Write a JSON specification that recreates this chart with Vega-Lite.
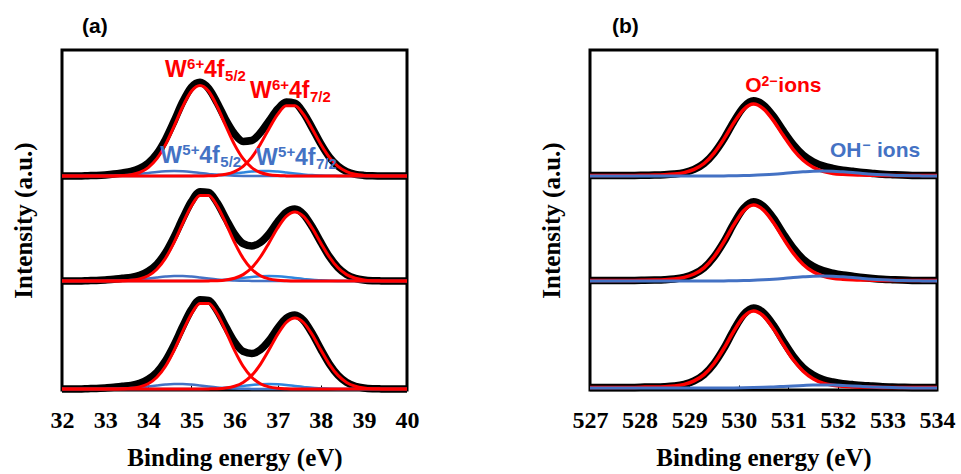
{
"$schema": "https://vega.github.io/schema/vega-lite/v6.json",
"background": "white",
"padding": {"left": 9, "top": 14, "right": 5, "bottom": 5},
"spacing": 183,
"bounds": "flush",
"config": {
  "view": {"stroke": "black", "strokeWidth": 3},
  "axis": {"grid": false, "domain": false, "labelFont": "Liberation Serif", "labelFontWeight": "bold", "labelFontSize": 24, "labelColor": "black", "titleFont": "Liberation Serif", "titleFontWeight": "bold", "titleFontSize": 25, "titleColor": "black", "tickColor": "black"},
  "title": {"font": "Liberation Sans", "fontWeight": "bold", "fontSize": 21, "anchor": "start", "color": "black", "offset": 13, "frame": "group"}
},
"datasets": {
"a": [
{"k":1,"x":32,"tot":2.14,"r1":2.14,"r2":2.14,"b1":2.14,"b2":2.14},
{"k":1,"x":32.2,"tot":2.14,"r1":2.14,"r2":2.14,"b1":2.14,"b2":2.14},
{"k":1,"x":32.4,"tot":2.14,"r1":2.14,"r2":2.14,"b1":2.14,"b2":2.14},
{"k":1,"x":32.6,"tot":2.143,"r1":2.14,"r2":2.14,"b1":2.14,"b2":2.14},
{"k":1,"x":32.8,"tot":2.146,"r1":2.14,"r2":2.14,"b1":2.14,"b2":2.14},
{"k":1,"x":33,"tot":2.151,"r1":2.14,"r2":2.14,"b1":2.141,"b2":2.14},
{"k":1,"x":33.2,"tot":2.159,"r1":2.141,"r2":2.14,"b1":2.143,"b2":2.14},
{"k":1,"x":33.4,"tot":2.171,"r1":2.144,"r2":2.14,"b1":2.147,"b2":2.14},
{"k":1,"x":33.6,"tot":2.185,"r1":2.153,"r2":2.14,"b1":2.152,"b2":2.14},
{"k":1,"x":33.8,"tot":2.216,"r1":2.175,"r2":2.14,"b1":2.161,"b2":2.14},
{"k":1,"x":34,"tot":2.269,"r1":2.224,"r2":2.14,"b1":2.17,"b2":2.14},
{"k":1,"x":34.2,"tot":2.363,"r1":2.313,"r2":2.14,"b1":2.18,"b2":2.14},
{"k":1,"x":34.4,"tot":2.506,"r1":2.454,"r2":2.14,"b1":2.187,"b2":2.14},
{"k":1,"x":34.6,"tot":2.689,"r1":2.639,"r2":2.14,"b1":2.19,"b2":2.14},
{"k":1,"x":34.8,"tot":2.882,"r1":2.835,"r2":2.14,"b1":2.187,"b2":2.14},
{"k":1,"x":35,"tot":3.028,"r1":2.987,"r2":2.14,"b1":2.18,"b2":2.141},
{"k":1,"x":35.2,"tot":3.077,"r1":3.045,"r2":2.14,"b1":2.17,"b2":2.142},
{"k":1,"x":35.4,"tot":3.015,"r1":2.987,"r2":2.142,"b1":2.161,"b2":2.145},
{"k":1,"x":35.6,"tot":2.87,"r1":2.835,"r2":2.146,"b1":2.152,"b2":2.149},
{"k":1,"x":35.8,"tot":2.699,"r1":2.639,"r2":2.157,"b1":2.147,"b2":2.156},
{"k":1,"x":36,"tot":2.561,"r1":2.454,"r2":2.184,"b1":2.143,"b2":2.165},
{"k":1,"x":36.2,"tot":2.486,"r1":2.313,"r2":2.237,"b1":2.141,"b2":2.175},
{"k":1,"x":36.4,"tot":2.495,"r1":2.224,"r2":2.327,"b1":2.14,"b2":2.184},
{"k":1,"x":36.6,"tot":2.572,"r1":2.175,"r2":2.458,"b1":2.14,"b2":2.189},
{"k":1,"x":36.8,"tot":2.69,"r1":2.153,"r2":2.613,"b1":2.14,"b2":2.189},
{"k":1,"x":37,"tot":2.809,"r1":2.144,"r2":2.756,"b1":2.14,"b2":2.184},
{"k":1,"x":37.2,"tot":2.879,"r1":2.141,"r2":2.843,"b1":2.14,"b2":2.175},
{"k":1,"x":37.4,"tot":2.868,"r1":2.14,"r2":2.843,"b1":2.14,"b2":2.165},
{"k":1,"x":37.6,"tot":2.772,"r1":2.14,"r2":2.756,"b1":2.14,"b2":2.156},
{"k":1,"x":37.8,"tot":2.622,"r1":2.14,"r2":2.613,"b1":2.14,"b2":2.149},
{"k":1,"x":38,"tot":2.463,"r1":2.14,"r2":2.458,"b1":2.14,"b2":2.145},
{"k":1,"x":38.2,"tot":2.329,"r1":2.14,"r2":2.327,"b1":2.14,"b2":2.142},
{"k":1,"x":38.4,"tot":2.238,"r1":2.14,"r2":2.237,"b1":2.14,"b2":2.141},
{"k":1,"x":38.6,"tot":2.184,"r1":2.14,"r2":2.184,"b1":2.14,"b2":2.14},
{"k":1,"x":38.8,"tot":2.157,"r1":2.14,"r2":2.157,"b1":2.14,"b2":2.14},
{"k":1,"x":39,"tot":2.146,"r1":2.14,"r2":2.146,"b1":2.14,"b2":2.14},
{"k":1,"x":39.2,"tot":2.142,"r1":2.14,"r2":2.142,"b1":2.14,"b2":2.14},
{"k":1,"x":39.4,"tot":2.14,"r1":2.14,"r2":2.14,"b1":2.14,"b2":2.14},
{"k":1,"x":39.6,"tot":2.14,"r1":2.14,"r2":2.14,"b1":2.14,"b2":2.14},
{"k":1,"x":39.8,"tot":2.14,"r1":2.14,"r2":2.14,"b1":2.14,"b2":2.14},
{"k":1,"x":40,"tot":2.14,"r1":2.14,"r2":2.14,"b1":2.14,"b2":2.14},
{"k":2,"x":32,"tot":1.09,"r1":1.09,"r2":1.09,"b1":1.09,"b2":1.09},
{"k":2,"x":32.2,"tot":1.09,"r1":1.09,"r2":1.09,"b1":1.09,"b2":1.09},
{"k":2,"x":32.4,"tot":1.09,"r1":1.09,"r2":1.09,"b1":1.09,"b2":1.09},
{"k":2,"x":32.6,"tot":1.093,"r1":1.09,"r2":1.09,"b1":1.09,"b2":1.09},
{"k":2,"x":32.8,"tot":1.096,"r1":1.09,"r2":1.09,"b1":1.09,"b2":1.09},
{"k":2,"x":33,"tot":1.101,"r1":1.09,"r2":1.09,"b1":1.091,"b2":1.09},
{"k":2,"x":33.2,"tot":1.107,"r1":1.09,"r2":1.09,"b1":1.092,"b2":1.09},
{"k":2,"x":33.4,"tot":1.117,"r1":1.092,"r2":1.09,"b1":1.095,"b2":1.09},
{"k":2,"x":33.6,"tot":1.126,"r1":1.097,"r2":1.09,"b1":1.099,"b2":1.09},
{"k":2,"x":33.8,"tot":1.147,"r1":1.111,"r2":1.09,"b1":1.106,"b2":1.09},
{"k":2,"x":34,"tot":1.188,"r1":1.143,"r2":1.09,"b1":1.115,"b2":1.09},
{"k":2,"x":34.2,"tot":1.258,"r1":1.208,"r2":1.09,"b1":1.125,"b2":1.09},
{"k":2,"x":34.4,"tot":1.372,"r1":1.318,"r2":1.09,"b1":1.134,"b2":1.09},
{"k":2,"x":34.6,"tot":1.531,"r1":1.477,"r2":1.09,"b1":1.139,"b2":1.09},
{"k":2,"x":34.8,"tot":1.715,"r1":1.666,"r2":1.09,"b1":1.139,"b2":1.09},
{"k":2,"x":35,"tot":1.884,"r1":1.84,"r2":1.09,"b1":1.134,"b2":1.09},
{"k":2,"x":35.2,"tot":1.982,"r1":1.946,"r2":1.09,"b1":1.125,"b2":1.091},
{"k":2,"x":35.4,"tot":1.975,"r1":1.946,"r2":1.091,"b1":1.115,"b2":1.093},
{"k":2,"x":35.6,"tot":1.871,"r1":1.84,"r2":1.093,"b1":1.106,"b2":1.097},
{"k":2,"x":35.8,"tot":1.712,"r1":1.666,"r2":1.1,"b1":1.099,"b2":1.102},
{"k":2,"x":36,"tot":1.56,"r1":1.477,"r2":1.117,"b1":1.095,"b2":1.111},
{"k":2,"x":36.2,"tot":1.464,"r1":1.318,"r2":1.154,"b1":1.092,"b2":1.12},
{"k":2,"x":36.4,"tot":1.441,"r1":1.208,"r2":1.222,"b1":1.091,"b2":1.13},
{"k":2,"x":36.6,"tot":1.475,"r1":1.143,"r2":1.33,"b1":1.09,"b2":1.137},
{"k":2,"x":36.8,"tot":1.562,"r1":1.111,"r2":1.471,"b1":1.09,"b2":1.14},
{"k":2,"x":37,"tot":1.682,"r1":1.097,"r2":1.62,"b1":1.09,"b2":1.137},
{"k":2,"x":37.2,"tot":1.778,"r1":1.092,"r2":1.736,"b1":1.09,"b2":1.13},
{"k":2,"x":37.4,"tot":1.81,"r1":1.09,"r2":1.78,"b1":1.09,"b2":1.12},
{"k":2,"x":37.6,"tot":1.757,"r1":1.09,"r2":1.736,"b1":1.09,"b2":1.111},
{"k":2,"x":37.8,"tot":1.632,"r1":1.09,"r2":1.62,"b1":1.09,"b2":1.102},
{"k":2,"x":38,"tot":1.478,"r1":1.09,"r2":1.471,"b1":1.09,"b2":1.097},
{"k":2,"x":38.2,"tot":1.333,"r1":1.09,"r2":1.33,"b1":1.09,"b2":1.093},
{"k":2,"x":38.4,"tot":1.223,"r1":1.09,"r2":1.222,"b1":1.09,"b2":1.091},
{"k":2,"x":38.6,"tot":1.154,"r1":1.09,"r2":1.154,"b1":1.09,"b2":1.09},
{"k":2,"x":38.8,"tot":1.117,"r1":1.09,"r2":1.117,"b1":1.09,"b2":1.09},
{"k":2,"x":39,"tot":1.1,"r1":1.09,"r2":1.1,"b1":1.09,"b2":1.09},
{"k":2,"x":39.2,"tot":1.093,"r1":1.09,"r2":1.093,"b1":1.09,"b2":1.09},
{"k":2,"x":39.4,"tot":1.091,"r1":1.09,"r2":1.091,"b1":1.09,"b2":1.09},
{"k":2,"x":39.6,"tot":1.09,"r1":1.09,"r2":1.09,"b1":1.09,"b2":1.09},
{"k":2,"x":39.8,"tot":1.09,"r1":1.09,"r2":1.09,"b1":1.09,"b2":1.09},
{"k":2,"x":40,"tot":1.09,"r1":1.09,"r2":1.09,"b1":1.09,"b2":1.09},
{"k":3,"x":32,"tot":0.01,"r1":0.01,"r2":0.01,"b1":0.01,"b2":0.01},
{"k":3,"x":32.2,"tot":0.01,"r1":0.01,"r2":0.01,"b1":0.01,"b2":0.01},
{"k":3,"x":32.4,"tot":0.01,"r1":0.01,"r2":0.01,"b1":0.01,"b2":0.01},
{"k":3,"x":32.6,"tot":0.013,"r1":0.01,"r2":0.01,"b1":0.01,"b2":0.01},
{"k":3,"x":32.8,"tot":0.016,"r1":0.01,"r2":0.01,"b1":0.01,"b2":0.01},
{"k":3,"x":33,"tot":0.021,"r1":0.01,"r2":0.01,"b1":0.011,"b2":0.01},
{"k":3,"x":33.2,"tot":0.027,"r1":0.01,"r2":0.01,"b1":0.012,"b2":0.01},
{"k":3,"x":33.4,"tot":0.037,"r1":0.012,"r2":0.01,"b1":0.015,"b2":0.01},
{"k":3,"x":33.6,"tot":0.046,"r1":0.017,"r2":0.01,"b1":0.019,"b2":0.01},
{"k":3,"x":33.8,"tot":0.067,"r1":0.031,"r2":0.01,"b1":0.026,"b2":0.01},
{"k":3,"x":34,"tot":0.108,"r1":0.063,"r2":0.01,"b1":0.035,"b2":0.01},
{"k":3,"x":34.2,"tot":0.178,"r1":0.128,"r2":0.01,"b1":0.045,"b2":0.01},
{"k":3,"x":34.4,"tot":0.292,"r1":0.238,"r2":0.01,"b1":0.054,"b2":0.01},
{"k":3,"x":34.6,"tot":0.451,"r1":0.397,"r2":0.01,"b1":0.059,"b2":0.01},
{"k":3,"x":34.8,"tot":0.635,"r1":0.586,"r2":0.01,"b1":0.059,"b2":0.01},
{"k":3,"x":35,"tot":0.804,"r1":0.76,"r2":0.01,"b1":0.054,"b2":0.01},
{"k":3,"x":35.2,"tot":0.902,"r1":0.866,"r2":0.01,"b1":0.045,"b2":0.011},
{"k":3,"x":35.4,"tot":0.895,"r1":0.866,"r2":0.011,"b1":0.035,"b2":0.013},
{"k":3,"x":35.6,"tot":0.791,"r1":0.76,"r2":0.013,"b1":0.026,"b2":0.017},
{"k":3,"x":35.8,"tot":0.632,"r1":0.586,"r2":0.02,"b1":0.019,"b2":0.022},
{"k":3,"x":36,"tot":0.481,"r1":0.397,"r2":0.038,"b1":0.015,"b2":0.031},
{"k":3,"x":36.2,"tot":0.386,"r1":0.238,"r2":0.076,"b1":0.012,"b2":0.04},
{"k":3,"x":36.4,"tot":0.365,"r1":0.128,"r2":0.146,"b1":0.011,"b2":0.05},
{"k":3,"x":36.6,"tot":0.402,"r1":0.063,"r2":0.257,"b1":0.01,"b2":0.057},
{"k":3,"x":36.8,"tot":0.493,"r1":0.031,"r2":0.402,"b1":0.01,"b2":0.06},
{"k":3,"x":37,"tot":0.617,"r1":0.017,"r2":0.555,"b1":0.01,"b2":0.057},
{"k":3,"x":37.2,"tot":0.717,"r1":0.012,"r2":0.675,"b1":0.01,"b2":0.05},
{"k":3,"x":37.4,"tot":0.75,"r1":0.01,"r2":0.72,"b1":0.01,"b2":0.04},
{"k":3,"x":37.6,"tot":0.696,"r1":0.01,"r2":0.675,"b1":0.01,"b2":0.031},
{"k":3,"x":37.8,"tot":0.567,"r1":0.01,"r2":0.555,"b1":0.01,"b2":0.022},
{"k":3,"x":38,"tot":0.409,"r1":0.01,"r2":0.402,"b1":0.01,"b2":0.017},
{"k":3,"x":38.2,"tot":0.26,"r1":0.01,"r2":0.257,"b1":0.01,"b2":0.013},
{"k":3,"x":38.4,"tot":0.147,"r1":0.01,"r2":0.146,"b1":0.01,"b2":0.011},
{"k":3,"x":38.6,"tot":0.076,"r1":0.01,"r2":0.076,"b1":0.01,"b2":0.01},
{"k":3,"x":38.8,"tot":0.038,"r1":0.01,"r2":0.038,"b1":0.01,"b2":0.01},
{"k":3,"x":39,"tot":0.02,"r1":0.01,"r2":0.02,"b1":0.01,"b2":0.01},
{"k":3,"x":39.2,"tot":0.013,"r1":0.01,"r2":0.013,"b1":0.01,"b2":0.01},
{"k":3,"x":39.4,"tot":0.011,"r1":0.01,"r2":0.011,"b1":0.01,"b2":0.01},
{"k":3,"x":39.6,"tot":0.01,"r1":0.01,"r2":0.01,"b1":0.01,"b2":0.01},
{"k":3,"x":39.8,"tot":0.01,"r1":0.01,"r2":0.01,"b1":0.01,"b2":0.01},
{"k":3,"x":40,"tot":0.01,"r1":0.01,"r2":0.01,"b1":0.01,"b2":0.01}
],
"b": [
{"k":1,"x":527,"tot":2.144,"red":2.144,"oh":2.14},
{"k":1,"x":527.1,"tot":2.144,"red":2.144,"oh":2.14},
{"k":1,"x":527.3,"tot":2.144,"red":2.144,"oh":2.14},
{"k":1,"x":527.5,"tot":2.145,"red":2.145,"oh":2.14},
{"k":1,"x":527.7,"tot":2.146,"red":2.146,"oh":2.14},
{"k":1,"x":527.9,"tot":2.146,"red":2.146,"oh":2.14},
{"k":1,"x":528.1,"tot":2.148,"red":2.148,"oh":2.14},
{"k":1,"x":528.3,"tot":2.149,"red":2.149,"oh":2.14},
{"k":1,"x":528.5,"tot":2.152,"red":2.152,"oh":2.14},
{"k":1,"x":528.7,"tot":2.159,"red":2.159,"oh":2.14},
{"k":1,"x":528.9,"tot":2.174,"red":2.174,"oh":2.14},
{"k":1,"x":529.1,"tot":2.206,"red":2.206,"oh":2.14},
{"k":1,"x":529.3,"tot":2.265,"red":2.265,"oh":2.14},
{"k":1,"x":529.5,"tot":2.367,"red":2.367,"oh":2.14},
{"k":1,"x":529.7,"tot":2.51,"red":2.509,"oh":2.141},
{"k":1,"x":529.9,"tot":2.683,"red":2.671,"oh":2.142},
{"k":1,"x":530.1,"tot":2.83,"red":2.806,"oh":2.144},
{"k":1,"x":530.3,"tot":2.892,"red":2.86,"oh":2.147},
{"k":1,"x":530.5,"tot":2.849,"red":2.812,"oh":2.152},
{"k":1,"x":530.7,"tot":2.737,"red":2.694,"oh":2.158},
{"k":1,"x":530.9,"tot":2.59,"red":2.544,"oh":2.166},
{"k":1,"x":531.1,"tot":2.454,"red":2.404,"oh":2.175},
{"k":1,"x":531.3,"tot":2.349,"red":2.297,"oh":2.182},
{"k":1,"x":531.5,"tot":2.283,"red":2.227,"oh":2.188},
{"k":1,"x":531.7,"tot":2.241,"red":2.186,"oh":2.19},
{"k":1,"x":531.9,"tot":2.217,"red":2.166,"oh":2.188},
{"k":1,"x":532.1,"tot":2.199,"red":2.157,"oh":2.182},
{"k":1,"x":532.3,"tot":2.187,"red":2.152,"oh":2.175},
{"k":1,"x":532.5,"tot":2.175,"red":2.149,"oh":2.166},
{"k":1,"x":532.7,"tot":2.166,"red":2.148,"oh":2.158},
{"k":1,"x":532.9,"tot":2.158,"red":2.146,"oh":2.152},
{"k":1,"x":533.1,"tot":2.153,"red":2.146,"oh":2.147},
{"k":1,"x":533.3,"tot":2.149,"red":2.145,"oh":2.144},
{"k":1,"x":533.5,"tot":2.146,"red":2.144,"oh":2.142},
{"k":1,"x":533.7,"tot":2.145,"red":2.144,"oh":2.141},
{"k":1,"x":533.9,"tot":2.144,"red":2.144,"oh":2.14},
{"k":1,"x":534,"tot":2.144,"red":2.144,"oh":2.14},
{"k":2,"x":527,"tot":1.094,"red":1.094,"oh":1.09},
{"k":2,"x":527.1,"tot":1.094,"red":1.094,"oh":1.09},
{"k":2,"x":527.3,"tot":1.094,"red":1.094,"oh":1.09},
{"k":2,"x":527.5,"tot":1.095,"red":1.095,"oh":1.09},
{"k":2,"x":527.7,"tot":1.096,"red":1.096,"oh":1.09},
{"k":2,"x":527.9,"tot":1.096,"red":1.096,"oh":1.09},
{"k":2,"x":528.1,"tot":1.098,"red":1.098,"oh":1.09},
{"k":2,"x":528.3,"tot":1.1,"red":1.1,"oh":1.09},
{"k":2,"x":528.5,"tot":1.103,"red":1.103,"oh":1.09},
{"k":2,"x":528.7,"tot":1.11,"red":1.11,"oh":1.09},
{"k":2,"x":528.9,"tot":1.126,"red":1.126,"oh":1.09},
{"k":2,"x":529.1,"tot":1.16,"red":1.16,"oh":1.09},
{"k":2,"x":529.3,"tot":1.222,"red":1.222,"oh":1.09},
{"k":2,"x":529.5,"tot":1.33,"red":1.33,"oh":1.09},
{"k":2,"x":529.7,"tot":1.481,"red":1.48,"oh":1.091},
{"k":2,"x":529.9,"tot":1.663,"red":1.651,"oh":1.092},
{"k":2,"x":530.1,"tot":1.817,"red":1.793,"oh":1.094},
{"k":2,"x":530.3,"tot":1.882,"red":1.85,"oh":1.097},
{"k":2,"x":530.5,"tot":1.836,"red":1.799,"oh":1.102},
{"k":2,"x":530.7,"tot":1.718,"red":1.675,"oh":1.108},
{"k":2,"x":530.9,"tot":1.562,"red":1.516,"oh":1.116},
{"k":2,"x":531.1,"tot":1.419,"red":1.369,"oh":1.125},
{"k":2,"x":531.3,"tot":1.308,"red":1.256,"oh":1.132},
{"k":2,"x":531.5,"tot":1.238,"red":1.182,"oh":1.138},
{"k":2,"x":531.7,"tot":1.194,"red":1.139,"oh":1.14},
{"k":2,"x":531.9,"tot":1.168,"red":1.117,"oh":1.138},
{"k":2,"x":532.1,"tot":1.15,"red":1.108,"oh":1.132},
{"k":2,"x":532.3,"tot":1.138,"red":1.103,"oh":1.125},
{"k":2,"x":532.5,"tot":1.126,"red":1.1,"oh":1.116},
{"k":2,"x":532.7,"tot":1.116,"red":1.098,"oh":1.108},
{"k":2,"x":532.9,"tot":1.108,"red":1.096,"oh":1.102},
{"k":2,"x":533.1,"tot":1.103,"red":1.096,"oh":1.097},
{"k":2,"x":533.3,"tot":1.099,"red":1.095,"oh":1.094},
{"k":2,"x":533.5,"tot":1.096,"red":1.094,"oh":1.092},
{"k":2,"x":533.7,"tot":1.095,"red":1.094,"oh":1.091},
{"k":2,"x":533.9,"tot":1.094,"red":1.094,"oh":1.09},
{"k":2,"x":534,"tot":1.094,"red":1.094,"oh":1.09},
{"k":3,"x":527,"tot":0.024,"red":0.024,"oh":0.02},
{"k":3,"x":527.1,"tot":0.024,"red":0.024,"oh":0.02},
{"k":3,"x":527.3,"tot":0.024,"red":0.024,"oh":0.02},
{"k":3,"x":527.5,"tot":0.025,"red":0.025,"oh":0.02},
{"k":3,"x":527.7,"tot":0.026,"red":0.026,"oh":0.02},
{"k":3,"x":527.9,"tot":0.026,"red":0.026,"oh":0.02},
{"k":3,"x":528.1,"tot":0.029,"red":0.029,"oh":0.02},
{"k":3,"x":528.3,"tot":0.03,"red":0.03,"oh":0.02},
{"k":3,"x":528.5,"tot":0.033,"red":0.033,"oh":0.02},
{"k":3,"x":528.7,"tot":0.04,"red":0.04,"oh":0.02},
{"k":3,"x":528.9,"tot":0.056,"red":0.056,"oh":0.02},
{"k":3,"x":529.1,"tot":0.091,"red":0.091,"oh":0.02},
{"k":3,"x":529.3,"tot":0.154,"red":0.154,"oh":0.02},
{"k":3,"x":529.5,"tot":0.263,"red":0.263,"oh":0.02},
{"k":3,"x":529.7,"tot":0.416,"red":0.415,"oh":0.021},
{"k":3,"x":529.9,"tot":0.599,"red":0.588,"oh":0.021},
{"k":3,"x":530.1,"tot":0.754,"red":0.732,"oh":0.022},
{"k":3,"x":530.3,"tot":0.819,"red":0.79,"oh":0.024},
{"k":3,"x":530.5,"tot":0.771,"red":0.739,"oh":0.027},
{"k":3,"x":530.7,"tot":0.648,"red":0.612,"oh":0.031},
{"k":3,"x":530.9,"tot":0.488,"red":0.452,"oh":0.036},
{"k":3,"x":531.1,"tot":0.338,"red":0.302,"oh":0.041},
{"k":3,"x":531.3,"tot":0.223,"red":0.188,"oh":0.045},
{"k":3,"x":531.5,"tot":0.15,"red":0.113,"oh":0.049},
{"k":3,"x":531.7,"tot":0.104,"red":0.069,"oh":0.05},
{"k":3,"x":531.9,"tot":0.08,"red":0.048,"oh":0.049},
{"k":3,"x":532.1,"tot":0.063,"red":0.038,"oh":0.045},
{"k":3,"x":532.3,"tot":0.054,"red":0.033,"oh":0.041},
{"k":3,"x":532.5,"tot":0.046,"red":0.03,"oh":0.036},
{"k":3,"x":532.7,"tot":0.04,"red":0.029,"oh":0.031},
{"k":3,"x":532.9,"tot":0.033,"red":0.026,"oh":0.027},
{"k":3,"x":533.1,"tot":0.03,"red":0.026,"oh":0.024},
{"k":3,"x":533.3,"tot":0.027,"red":0.025,"oh":0.022},
{"k":3,"x":533.5,"tot":0.025,"red":0.024,"oh":0.021},
{"k":3,"x":533.7,"tot":0.025,"red":0.024,"oh":0.021},
{"k":3,"x":533.9,"tot":0.024,"red":0.024,"oh":0.02},
{"k":3,"x":534,"tot":0.024,"red":0.024,"oh":0.02}
],
"la": [
{"x":34.39,"y":3.13,"w":"W","s":"6+","f":"4f","j":"5/2","ion":"W6+"},
{"x":36.36,"y":2.92,"w":"W","s":"6+","f":"4f","j":"7/2","ion":"W6+"},
{"x":34.28,"y":2.27,"w":"W","s":"5+","f":"4f","j":"5/2","ion":"W5+"},
{"x":36.5,"y":2.25,"w":"W","s":"5+","f":"4f","j":"7/2","ion":"W5+"}
],
"lb": [
{"x":530.13,"y":2.98,"t":"O","part":"base","ion":"O2-"},
{"x":530.46,"y":3.04,"t":"2−","part":"sup","ion":"O2-"},
{"x":530.8,"y":2.98,"t":"ions","part":"base","ion":"O2-"},
{"x":531.84,"y":2.33,"t":"OH","part":"base","ion":"OH-"},
{"x":532.49,"y":2.4,"t":"−","part":"sup","ion":"OH-"},
{"x":532.79,"y":2.33,"t":"ions","part":"base","ion":"OH-"}
]
},
"hconcat": [
{
  "width": 345, "height": 340,
  "title": {"text": "(a)", "dx": 20},
  "data": {"name": "a"},
  "encoding": {
    "x": {"field": "x", "type": "quantitative", "scale": {"domain": [32, 40], "nice": false, "zero": false},
          "axis": {"values": [32,33,34,35,36,37,38,39,40], "format": "d", "title": "Binding energy (eV)", "tickSize": -5, "labelPadding": 23, "titlePadding": 13, "labelFlush": false}}
  },
  "layer": [
    {"mark": {"type": "line", "color": "black", "strokeWidth": 7.5, "interpolate": "monotone"},
     "encoding": {"y": {"field": "tot", "type": "quantitative", "scale": {"domain": [0, 3.4], "nice": false}, "axis": {"title": "Intensity (a.u.)", "labels": false, "ticks": false, "titlePadding": 26}}, "detail": {"field": "k"}}},
    {"mark": {"type": "line", "color": "#4472C4", "strokeWidth": 2.5, "interpolate": "monotone"},
     "encoding": {"y": {"field": "b1", "type": "quantitative", "scale": {"domain": [0, 3.4], "nice": false}, "axis": {"title": "Intensity (a.u.)", "labels": false, "ticks": false, "titlePadding": 26}}, "detail": {"field": "k"}}},
    {"mark": {"type": "line", "color": "#2E86DE", "strokeWidth": 2.5, "interpolate": "monotone"},
     "encoding": {"y": {"field": "b2", "type": "quantitative", "scale": {"domain": [0, 3.4], "nice": false}, "axis": {"title": "Intensity (a.u.)", "labels": false, "ticks": false, "titlePadding": 26}}, "detail": {"field": "k"}}},
    {"mark": {"type": "line", "color": "#FF0000", "strokeWidth": 3, "interpolate": "monotone"},
     "encoding": {"y": {"field": "r1", "type": "quantitative", "scale": {"domain": [0, 3.4], "nice": false}, "axis": {"title": "Intensity (a.u.)", "labels": false, "ticks": false, "titlePadding": 26}}, "detail": {"field": "k"}}},
    {"mark": {"type": "line", "color": "#FF0000", "strokeWidth": 3, "interpolate": "monotone"},
     "encoding": {"y": {"field": "r2", "type": "quantitative", "scale": {"domain": [0, 3.4], "nice": false}, "axis": {"title": "Intensity (a.u.)", "labels": false, "ticks": false, "titlePadding": 26}}, "detail": {"field": "k"}}},
    {"data": {"name": "la"},
     "mark": {"type": "text", "align": "left", "baseline": "alphabetic", "font": "Liberation Sans", "fontWeight": "bold", "fontSize": 23},
     "encoding": {"y": {"field": "y", "type": "quantitative"}, "text": {"field": "w"},
       "color": {"field": "ion", "type": "nominal", "scale": {"domain": ["W6+", "W5+"], "range": ["#FF0000", "#4472C4"]}, "legend": null}}},
    {"data": {"name": "la"},
     "mark": {"type": "text", "align": "left", "baseline": "alphabetic", "font": "Liberation Sans", "fontWeight": "bold", "fontSize": 15, "dx": 22, "dy": -8},
     "encoding": {"y": {"field": "y", "type": "quantitative"}, "text": {"field": "s"},
       "color": {"field": "ion", "type": "nominal", "scale": {"domain": ["W6+", "W5+"], "range": ["#FF0000", "#4472C4"]}, "legend": null}}},
    {"data": {"name": "la"},
     "mark": {"type": "text", "align": "left", "baseline": "alphabetic", "font": "Liberation Sans", "fontWeight": "bold", "fontSize": 23, "dx": 39},
     "encoding": {"y": {"field": "y", "type": "quantitative"}, "text": {"field": "f"},
       "color": {"field": "ion", "type": "nominal", "scale": {"domain": ["W6+", "W5+"], "range": ["#FF0000", "#4472C4"]}, "legend": null}}},
    {"data": {"name": "la"},
     "mark": {"type": "text", "align": "left", "baseline": "alphabetic", "font": "Liberation Sans", "fontWeight": "bold", "fontSize": 15, "dx": 60, "dy": 4},
     "encoding": {"y": {"field": "y", "type": "quantitative"}, "text": {"field": "j"},
       "color": {"field": "ion", "type": "nominal", "scale": {"domain": ["W6+", "W5+"], "range": ["#FF0000", "#4472C4"]}, "legend": null}}}
  ]
},
{
  "width": 347, "height": 340,
  "title": {"text": "(b)", "dx": 22},
  "data": {"name": "b"},
  "encoding": {
    "x": {"field": "x", "type": "quantitative", "scale": {"domain": [527, 534], "nice": false, "zero": false},
          "axis": {"values": [527,528,529,530,531,532,533,534], "format": "d", "title": "Binding energy (eV)", "tickSize": -5, "labelPadding": 23, "titlePadding": 13, "labelFlush": false}}
  },
  "layer": [
    {"mark": {"type": "line", "color": "black", "strokeWidth": 7.5, "interpolate": "monotone"},
     "encoding": {"y": {"field": "tot", "type": "quantitative", "scale": {"domain": [0, 3.4], "nice": false}, "axis": {"title": "Intensity (a.u.)", "labels": false, "ticks": false, "titlePadding": 26}}, "detail": {"field": "k"}}},
    {"mark": {"type": "line", "color": "#FF0000", "strokeWidth": 3.5, "interpolate": "monotone"},
     "encoding": {"y": {"field": "red", "type": "quantitative", "scale": {"domain": [0, 3.4], "nice": false}, "axis": {"title": "Intensity (a.u.)", "labels": false, "ticks": false, "titlePadding": 26}}, "detail": {"field": "k"}}},
    {"mark": {"type": "line", "color": "#4472C4", "strokeWidth": 3, "interpolate": "monotone"},
     "encoding": {"y": {"field": "oh", "type": "quantitative", "scale": {"domain": [0, 3.4], "nice": false}, "axis": {"title": "Intensity (a.u.)", "labels": false, "ticks": false, "titlePadding": 26}}, "detail": {"field": "k"}}},
    {"data": {"name": "lb"},
     "transform": [{"filter": "datum.part === 'base'"}],
     "mark": {"type": "text", "align": "left", "baseline": "alphabetic", "font": "Liberation Sans", "fontWeight": "bold", "fontSize": 21},
     "encoding": {"y": {"field": "y", "type": "quantitative"}, "text": {"field": "t"},
       "color": {"field": "ion", "type": "nominal", "scale": {"domain": ["O2-", "OH-"], "range": ["#FF0000", "#4472C4"]}, "legend": null}}},
    {"data": {"name": "lb"},
     "transform": [{"filter": "datum.part === 'sup'"}],
     "mark": {"type": "text", "align": "left", "baseline": "alphabetic", "font": "Liberation Sans", "fontWeight": "bold", "fontSize": 14},
     "encoding": {"y": {"field": "y", "type": "quantitative"}, "text": {"field": "t"},
       "color": {"field": "ion", "type": "nominal", "scale": {"domain": ["O2-", "OH-"], "range": ["#FF0000", "#4472C4"]}, "legend": null}}}
  ]
}
]
}
